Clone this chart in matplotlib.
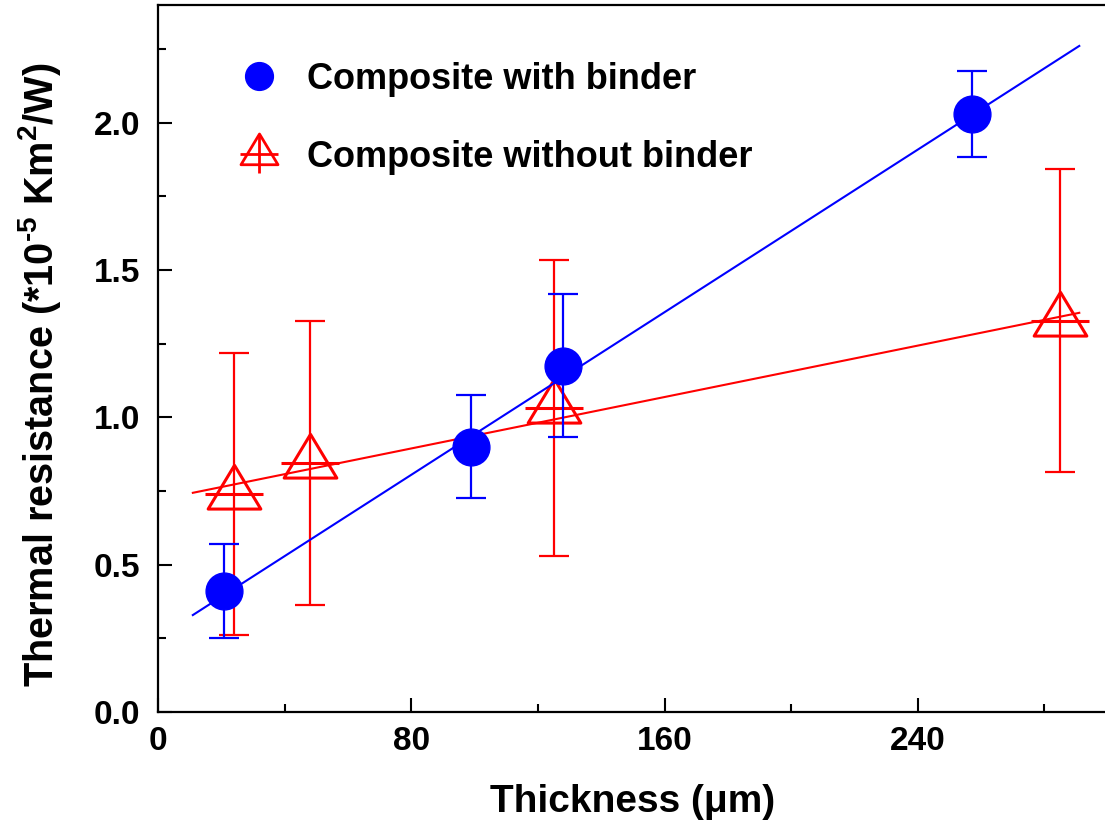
import numpy as np
import matplotlib
matplotlib.use("Agg")
import matplotlib.pyplot as plt
from matplotlib.lines import Line2D
from matplotlib.path import Path

plt.rcParams['font.family'] = ['Liberation Sans', 'DejaVu Sans']
plt.rcParams['font.weight'] = 'bold'
plt.rcParams['mathtext.fontset'] = 'custom'
plt.rcParams['mathtext.rm'] = 'Liberation Sans:bold'
plt.rcParams['mathtext.bf'] = 'Liberation Sans:bold'
plt.rcParams['mathtext.it'] = 'Liberation Sans:bold'

# composite with binder (blue circles)
x_binder = [21, 99, 128, 257]
y_binder = [0.41, 0.90, 1.175, 2.03]
err_binder = [0.16, 0.175, 0.243, 0.145]

# composite without binder (red triangles)
x_nobinder = [24, 48, 125, 285]
y_nobinder = [0.74, 0.845, 1.032, 1.328]
err_nobinder = [0.48, 0.482, 0.502, 0.515]

# linear fit lines (end points)
fit_x = [11, 291]
fit_binder = [0.329, 2.261]
fit_nobinder = [0.744, 1.355]

# triangle with its centroid at the data point
tri = Path([(0, 1.107), (-1, -0.553), (1, -0.553), (0, 1.107)],
           [Path.MOVETO, Path.LINETO, Path.LINETO, Path.CLOSEPOLY])

fig = plt.figure(figsize=(11.05, 8.30), dpi=100)
ax = fig.add_axes([0.143, 0.1422, 0.8595, 0.8518])

# red series first, blue goes on top
ax.plot(fit_x, fit_nobinder, color='red', lw=1.5, zorder=2)
ax.errorbar(x_nobinder, y_nobinder, yerr=err_nobinder, fmt='none', ecolor='red',
            elinewidth=1.6, capsize=11, capthick=1.6, zorder=3)
ax.plot(x_nobinder, y_nobinder, ls='none', marker=tri, ms=42, mfc='none',
        mec='red', mew=2.2, zorder=4)
ax.plot(x_nobinder, y_nobinder, ls='none', marker='_', ms=42, mec='red',
        mew=2.2, zorder=4)

ax.plot(fit_x, fit_binder, color='blue', lw=1.5, zorder=5)
ax.errorbar(x_binder, y_binder, yerr=err_binder, fmt='none', ecolor='blue',
            elinewidth=1.6, capsize=11, capthick=1.6, zorder=6)
ax.plot(x_binder, y_binder, ls='none', marker='o', ms=26.5, color='blue',
        mec='blue', zorder=7)

ax.set_xlim(0, 300)
ax.set_ylim(0, 2.4)
ax.set_xticks([0, 80, 160, 240])
ax.set_xticks([40, 120, 200, 280], minor=True)
ax.set_yticks([0.0, 0.5, 1.0, 1.5, 2.0])
ax.set_yticklabels(['0.0', '0.5', '1.0', '1.5', '2.0'])
ax.set_yticks([0.25, 0.75, 1.25, 1.75, 2.25], minor=True)
ax.tick_params(which='both', direction='in', width=1.5, labelsize=24)
ax.tick_params(which='major', length=10)
ax.tick_params(which='minor', length=5.5)
ax.tick_params(axis='x', pad=10)
ax.tick_params(axis='y', pad=13)
for sp in ax.spines.values():
    sp.set_linewidth(1.6)

ax.set_xlabel(u'Thickness (\u03bcm)', fontsize=28, fontweight='bold')
ax.xaxis.set_label_coords(0.5, -0.102)
ax.set_ylabel(r'Thermal resistance (*10$^{\text{-5}}$ Km$^{2}$/W)', fontsize=28.5,
              fontweight='bold')
ax.yaxis.set_label_coords(-0.10, 0.477)

h_blue = Line2D([], [], ls='none', marker='o', ms=20, color='blue')
h_tri = Line2D([], [], ls='none', marker=tri, ms=29.5, mfc='none', mec='red', mew=2.0)
h_plus = Line2D([], [], ls='none', marker='+', ms=28, mec='red', mew=2.0)
ax.legend([h_blue, (h_tri, h_plus)],
          ['Composite with binder', 'Composite without binder'],
          loc='upper left', bbox_to_anchor=(0.0874, 0.92), frameon=False,
          fontsize=26, handlelength=1.0, handletextpad=0.83, labelspacing=1.2,
          borderpad=0, borderaxespad=0)

fig.savefig('out.png', dpi=100)
